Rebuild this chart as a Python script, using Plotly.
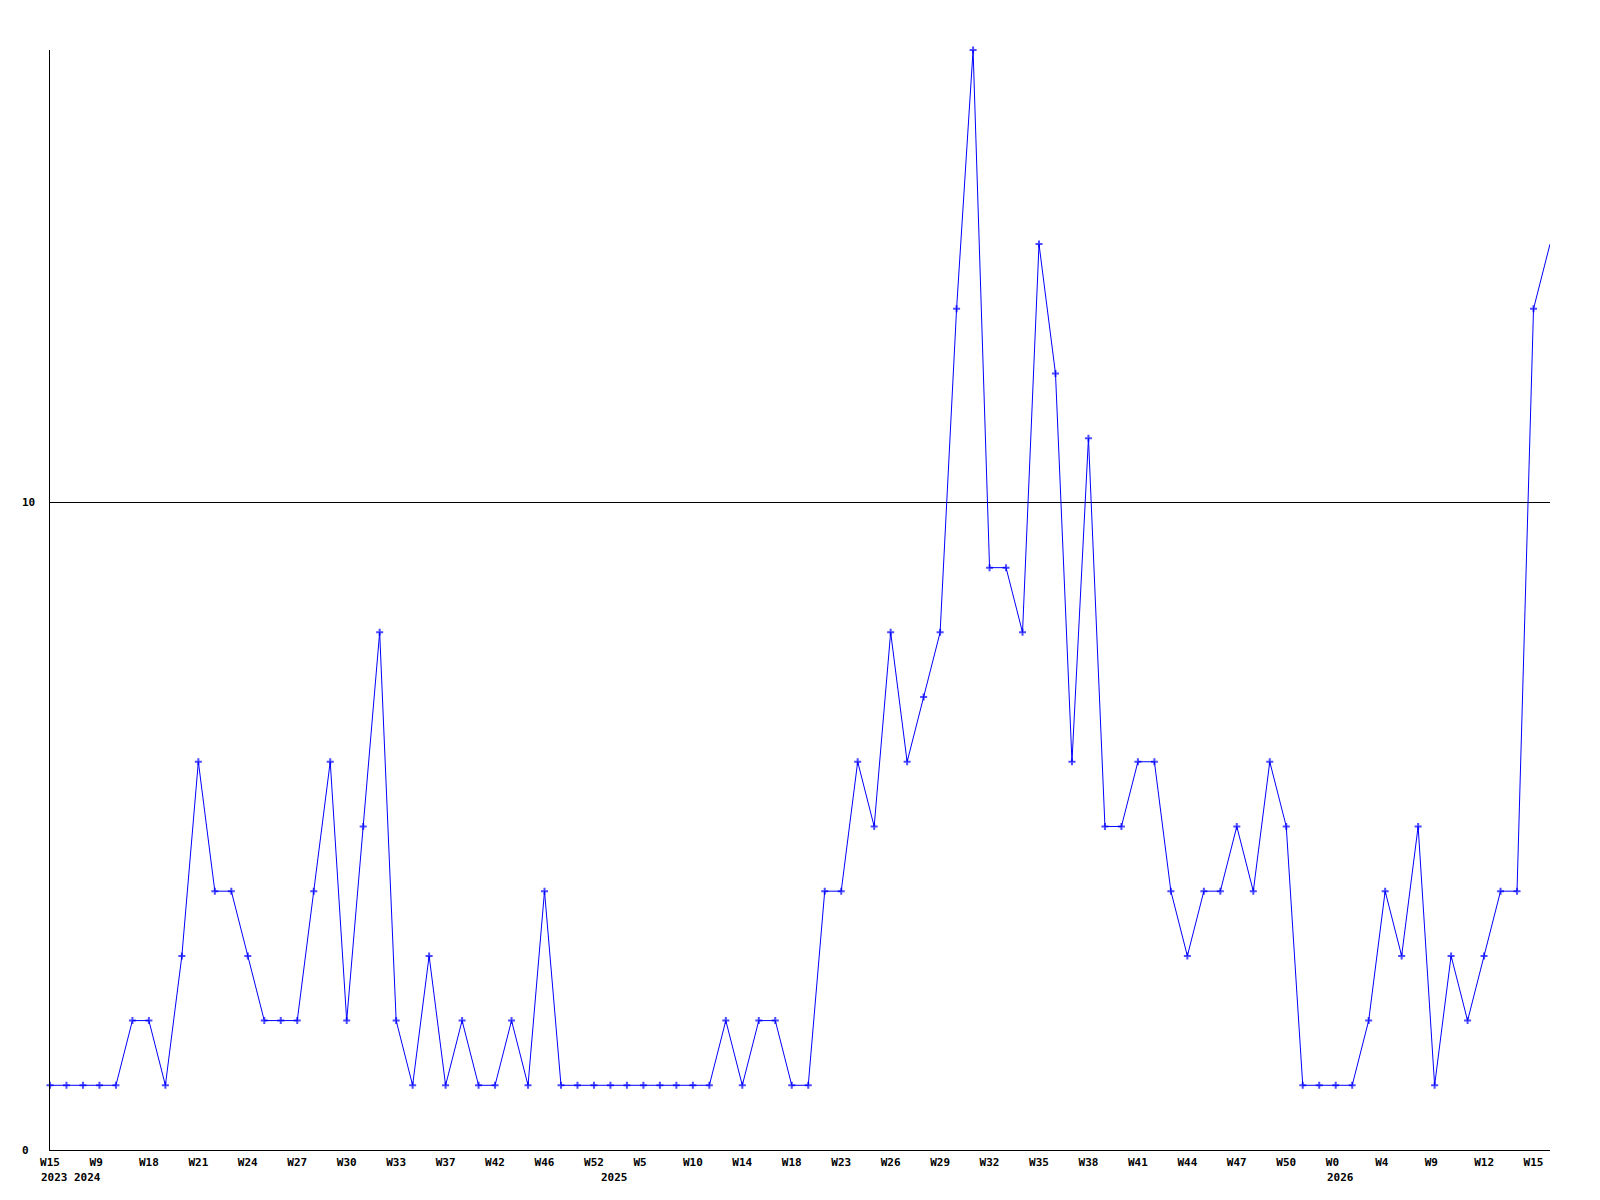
import plotly.graph_objects as go

# Data (weekly samples, index-based x axis)
values = [1, 1, 1, 1, 1, 2, 2, 1, 3, 6, 4, 4, 3, 2, 2, 2, 4, 6, 2, 5, 8, 2, 1, 3, 1, 2, 1, 1, 2, 1, 4,
          1, 1, 1, 1, 1, 1, 1, 1, 1, 1,
          2, 1, 2, 2, 1, 1, 4, 4, 6, 5, 8, 6, 7, 8,
          13, 17, 9, 9, 8, 14, 12, 6, 11,
          5, 5, 6, 6, 4, 3, 4, 4, 5, 4, 6, 5,
          1, 1, 1, 1, 2, 4, 3, 5, 1, 3, 2, 3, 4, 4, 13, 14]

tick_labels = ["W15", "W9", "W18", "W21", "W24", "W27", "W30", "W33", "W37", "W42", "W46",
               "W52", "W5", "W10", "W14", "W18", "W23", "W26", "W29", "W32", "W35", "W38",
               "W41", "W44", "W47", "W50", "W0", "W4", "W9", "W12", "W15"]
tick_index = list(range(0, 91, 3))

year_labels = ["2023", "2024", "2025", "2026"]
year_index = [0, 2, 34, 78]

y_tick_values = [0, 10]
y_tick_labels = ["0", "10"]

x = list(range(len(values)))
marker_sizes = [5] * (len(values) - 1) + [0]

FONT = "DejaVu Sans Mono"
BLUE = "#0000ff"

fig = go.Figure()
fig.add_trace(go.Scatter(
    x=x, y=values, mode="lines+markers",
    line=dict(color=BLUE, width=1),
    marker=dict(color=BLUE, size=marker_sizes, symbol="cross-thin",
                line=dict(color=BLUE, width=2)),
    cliponaxis=False,
    hoverinfo="x+y", showlegend=False,
))

# pad 2-char labels so monospace text starts where 3-char labels start
padded = [t if len(t) >= 3 else t + "\u00a0" * (3 - len(t)) for t in tick_labels]

annotations = []
for lab, idx in zip(year_labels, year_index):
    annotations.append(dict(
        x=idx, y=0, xref="x", yref="paper", text=f"<b>{lab}</b>",
        showarrow=False, xanchor="left", yanchor="middle",
        xshift=-11, yshift=-27,
        font=dict(family=FONT, size=11, color="black"),
    ))
for v, lab in zip(y_tick_values, y_tick_labels):
    annotations.append(dict(
        x=0, y=v, xref="paper", yref="y", text=f"<b>{lab}</b>",
        showarrow=False, xanchor="left", yanchor="middle",
        xshift=-30,
        font=dict(family=FONT, size=11, color="black"),
    ))

# page body has an 8px default margin; shift the plot area so it sits at 50..1550 x 50..1150
fig.update_layout(
    width=1600, height=1200,
    margin=dict(l=42, r=58, t=42, b=58),
    paper_bgcolor="white", plot_bgcolor="white",
    font=dict(family=FONT, size=11, color="black"),
    annotations=annotations,
    xaxis=dict(
        range=[0, 91], tickmode="array", tickvals=tick_index,
        ticktext=[f"<b>{t}</b>" for t in padded],
        showgrid=False, zeroline=False, showline=True, linecolor="black", linewidth=1,
        ticks="", tickfont=dict(family=FONT, size=11, color="black"),
        ticklabelstandoff=2,
        fixedrange=True,
    ),
    yaxis=dict(
        range=[0, 17], tickmode="array", tickvals=y_tick_values,
        showticklabels=False,
        showgrid=True, gridcolor="black", gridwidth=1,
        zeroline=False, showline=True, linecolor="black", linewidth=1,
        ticks="", fixedrange=True,
    ),
)

fig.write_html("out.html")
